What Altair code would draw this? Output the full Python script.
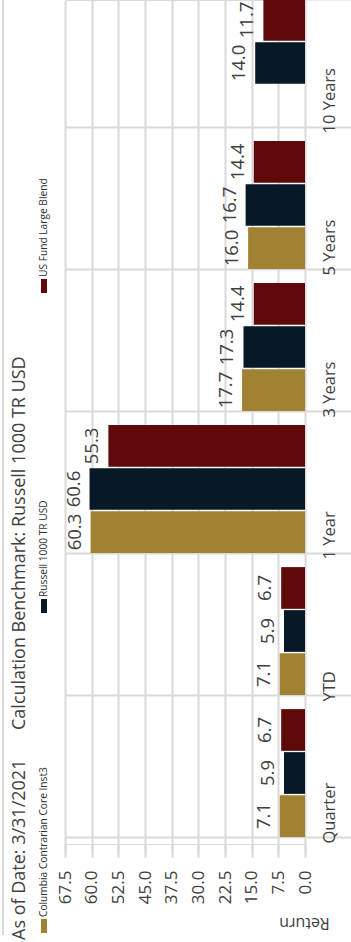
import altair as alt
import pandas as pd

periods = ["Quarter", "YTD", "1 Year", "3 Years", "5 Years", "10 Years"]
series = ["Columbia Contrarian Core Inst3", "Russell 1000 TR USD", "US Fund Large Blend"]
colors = ["#A08232", "#071826", "#5F0A0A"]
columbia = [7.1, 7.1, 60.3, 17.7, 16.0, None]
russell = [5.9, 5.9, 60.6, 17.3, 16.7, 14.0]
usfund = [6.7, 6.7, 55.3, 14.4, 14.4, 11.7]
ticks = [0, 7.5, 15, 22.5, 30, 37.5, 45, 52.5, 60, 67.5]
title_date = "As of Date: 3/31/2021"
title_bench = "Calculation Benchmark: Russell 1000 TR USD"

rows = []
for s, vals in zip(series, [columbia, russell, usfund]):
    for p, v in zip(periods, vals):
        if v is not None:
            rows.append({"period": p, "series": s, "value": v})
df = pd.DataFrame(rows)

FONT = "Open Sans"
GRID = "#d9d9d9"
TXT = "#404040"

y_enc = alt.Y(
    "period:N",
    scale=alt.Scale(domain=periods[::-1], paddingInner=0.1, paddingOuter=0.05, rangeMin=-8),
    axis=alt.Axis(
        orient="right", title=None, labelAngle=270, labelAlign="left", labelBaseline="top",
        labelPadding=-30, labelOffset=70, labelFont=FONT, labelFontSize=16.5, labelColor=TXT,
        tickBand="extent", tickSize=46, tickColor=GRID, tickWidth=2,
        grid=True, gridColor=GRID, gridWidth=2, domain=False,
    ),
)
yoff = alt.YOffset("series:N", scale=alt.Scale(domain=series[::-1], paddingInner=0.03))
x_enc = alt.X(
    "value:Q",
    scale=alt.Scale(domain=[0, 67.5], reverse=True, nice=False, zero=True),
    axis=alt.Axis(
        values=ticks, format=".1f", orient="bottom", labelAngle=270, labelAlign="right",
        labelBaseline="middle", labelPadding=13, labelFont=FONT, labelFontSize=17,
        labelColor=TXT, tickSize=13, tickColor=GRID, tickWidth=2, grid=True,
        gridColor=GRID, gridWidth=2, domain=False, title="Return", titleAngle=180,
        titleFont=FONT, titleFontSize=16, titleFontWeight="normal", titleColor=TXT,
        titleX=239, titleY=78, titleAlign="center", titleBaseline="middle",
    ),
)
color_enc = alt.Color("series:N", scale=alt.Scale(domain=series, range=colors), legend=None)

base = alt.Chart(df)
bars = base.mark_bar().encode(y=y_enc, yOffset=yoff, x=x_enc, color=color_enc)
labels = base.mark_text(
    angle=270, align="center", baseline="bottom", dy=-6, font=FONT, fontSize=18.5, color=TXT
).encode(y=y_enc, yOffset=yoff, x=x_enc, text=alt.Text("value:Q", format=".1f"))

layers = [bars, labels]

border = alt.Chart(pd.DataFrame({"t": [0]})).mark_rule(color=GRID, strokeWidth=2).encode(
    x=alt.value(-62), y=alt.value(-10), y2=alt.value(935)
)
layers.append(border)

tdf = pd.DataFrame({"t": [title_date]})
layers.append(
    alt.Chart(tdf).mark_text(angle=270, align="left", baseline="alphabetic", font=FONT,
                             fontSize=18, color=TXT)
    .encode(text="t:N", x=alt.value(-40), y=alt.value(940))
)
tdf2 = pd.DataFrame({"t": [title_bench]})
layers.append(
    alt.Chart(tdf2).mark_text(angle=270, align="left", baseline="alphabetic", font=FONT,
                              fontSize=18, color=TXT)
    .encode(text="t:N", x=alt.value(-40), y=alt.value(730))
)

legend_bottoms = [933, 613, 293]
for s, c, yb in zip(series, colors, legend_bottoms):
    ldf = pd.DataFrame({"t": [s]})
    layers.append(
        alt.Chart(ldf).mark_rect(color=c)
        .encode(x=alt.value(-24), x2=alt.value(-18), y=alt.value(yb - 14), y2=alt.value(yb))
    )
    layers.append(
        alt.Chart(ldf).mark_text(angle=270, align="left", baseline="alphabetic", font=FONT,
                                 fontSize=10.2, color="#303030")
        .encode(text="t:N", x=alt.value(-18), y=alt.value(yb - 16))
    )

chart = alt.layer(*layers).properties(
    width=240, height=844,
    autosize=alt.AutoSizeParams(type="none"),
    padding={"left": 65, "top": 0, "right": 46, "bottom": 98},
).configure_view(stroke=None).configure(background="white")

chart.save("out.html", embed_options={"renderer": "svg", "actions": False})
